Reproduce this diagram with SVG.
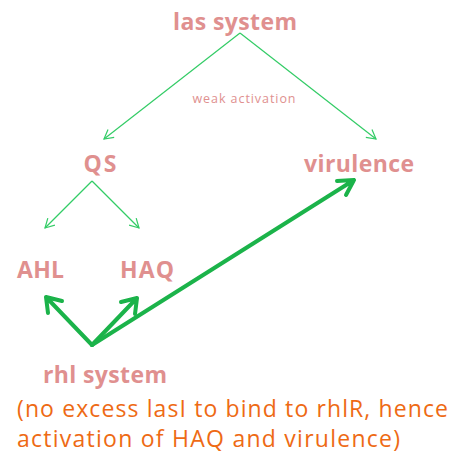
<svg xmlns="http://www.w3.org/2000/svg" width="464" height="459" viewBox="0 0 464 459">
<defs>
<style>
.lbl{font-family:"Open Sans","Liberation Sans",sans-serif;font-weight:bold;font-size:23px;fill:#e0908f}
.small{font-family:"Open Sans","Liberation Sans",sans-serif;font-size:12.5px;fill:#e0908f}
.note{font-family:"Open Sans","Liberation Sans",sans-serif;font-size:23px;fill:#ee6a14}
.thin{stroke:#33cc66;stroke-width:1.2;fill:none}
.thick{stroke:#1bb34a;stroke-width:4;fill:none;stroke-linecap:round;stroke-linejoin:round}
</style>
<marker id="ah" markerWidth="12" markerHeight="12" refX="10" refY="6" orient="auto" markerUnits="userSpaceOnUse">
<path d="M1,1 L10,6 L1,11" stroke="#33cc66" stroke-width="1.2" fill="none"/>
</marker>
</defs>
<rect width="464" height="459" fill="#ffffff"/>
<g id="connectors">
<line class="thin" x1="240" y1="33" x2="104" y2="139" marker-end="url(#ah)"/>
<line class="thin" x1="240" y1="33" x2="376" y2="139" marker-end="url(#ah)"/>
<line class="thin" x1="92" y1="181" x2="45" y2="228" marker-end="url(#ah)"/>
<line class="thin" x1="92" y1="181" x2="139" y2="228" marker-end="url(#ah)"/>
<path class="thick" d="M92,345 L46,297 M46,297 L48,313 M46,297 L62,301"/>
<path class="thick" d="M92,345 L137,298 M137,298 L121,302 M137,298 L135,314"/>
<path class="thick" d="M92,345 L354,180 M354,180 L337,181 M354,180 L346,195"/>
</g>
<g id="las"><text class="lbl" x="235" y="30" text-anchor="middle" textLength="124">las system</text></g>
<g id="weak"><text class="small" x="244" y="103" text-anchor="middle" textLength="103">weak activation</text></g>
<g id="qs"><text class="lbl" x="100" y="172" text-anchor="middle" textLength="33">QS</text></g>
<g id="virulence"><text class="lbl" x="359" y="172" text-anchor="middle" textLength="110">virulence</text></g>
<g id="ahl"><text class="lbl" x="40.5" y="278" text-anchor="middle" textLength="47">AHL</text></g>
<g id="haq"><text class="lbl" x="147" y="278" text-anchor="middle" textLength="54">HAQ</text></g>
<g id="rhl"><text class="lbl" x="105" y="383" text-anchor="middle" textLength="124">rhl system</text></g>
<g id="note">
<text class="note" x="17" y="417" textLength="431">(no excess  lasI to bind to rhlR, hence</text>
<text class="note" x="17" y="447" textLength="383">activation of HAQ and virulence)</text>
</g>
</svg>
